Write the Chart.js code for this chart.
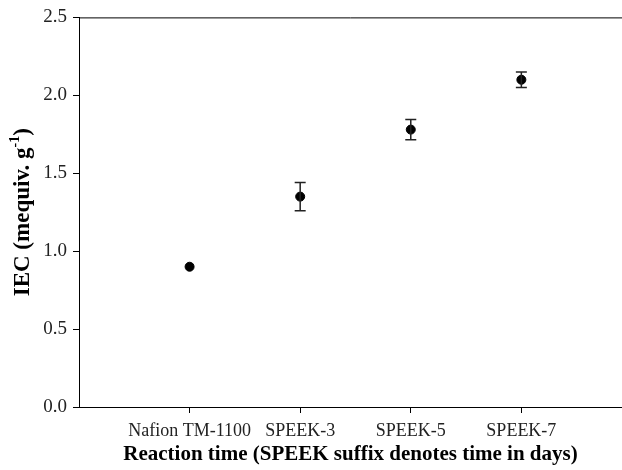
<!DOCTYPE html>
<html>
<head>
<meta charset="utf-8">
<script src="https://cdn.jsdelivr.net/npm/chart.js@4.4.0/dist/chart.umd.min.js"></script>
<style>
	html, body { margin: 0; padding: 0; background: #fff; overflow: hidden; }
	#wrap { width: 622px; height: 470px; }
</style>
</head>
<body>
<div id="wrap"><canvas id="chart"></canvas></div>
<script>
const categories = ['Nafion TM-1100', 'SPEEK-3', 'SPEEK-5', 'SPEEK-7'];
const categoryPositions = [1, 2, 3, 4];
const iecValues = [0.9, 1.35, 1.78, 2.1];
const iecErrors = [0, 0.09, 0.065, 0.05];
const yTicks = [0, 0.5, 1.0, 1.5, 2.0, 2.5];
const yTitleParts = ['IEC (mequiv. g', '-1', ')'];

const serif = "'Liberation Serif', 'Times New Roman', serif";

// error bars, top frame line and the y title (it has a superscript)
const extras = {
	id: 'extras',
	afterDatasetsDraw: (chart) => {
		const { ctx, chartArea, scales } = chart;
		ctx.save();
		ctx.strokeStyle = '#222';
		ctx.lineWidth = 1.5;
		iecValues.forEach((v, i) => {
			const err = iecErrors[i];
			if (!err) return;
			const x = scales.x.getPixelForValue(categoryPositions[i]);
			const yTop = scales.y.getPixelForValue(v + err);
			const yBot = scales.y.getPixelForValue(v - err);
			const cap = 5.5;
			ctx.beginPath();
			ctx.moveTo(x, yTop);
			ctx.lineTo(x, yBot);
			ctx.moveTo(x - cap, yTop);
			ctx.lineTo(x + cap, yTop);
			ctx.moveTo(x - cap, yBot);
			ctx.lineTo(x + cap, yBot);
			ctx.stroke();
		});
		ctx.strokeStyle = '#000';
		ctx.lineWidth = 1;
		ctx.beginPath();
		ctx.moveTo(chartArea.left, chartArea.top + 0.5);
		ctx.lineTo(chartArea.right, chartArea.top + 0.5);
		ctx.stroke();
		ctx.restore();
	},
	afterDraw: (chart) => {
		const { ctx, chartArea } = chart;
		const size = 23;
		const supSize = 14;
		const mainFont = `bold ${size}px ${serif}`;
		const supFont = `bold ${supSize}px ${serif}`;
		ctx.save();
		ctx.translate(21, (chartArea.top + chartArea.bottom) / 2);
		ctx.rotate(-Math.PI / 2);
		ctx.fillStyle = '#000';
		ctx.textBaseline = 'alphabetic';
		ctx.font = mainFont;
		const w1 = ctx.measureText(yTitleParts[0]).width;
		const w3 = ctx.measureText(yTitleParts[2]).width;
		ctx.font = supFont;
		const w2 = ctx.measureText(yTitleParts[1]).width;
		let x = -(w1 + w2 + w3) / 2;
		const base = size * 0.33;
		ctx.font = mainFont;
		ctx.fillText(yTitleParts[0], x, base);
		x += w1;
		ctx.font = supFont;
		ctx.fillText(yTitleParts[1], x, base - size * 0.42);
		x += w2;
		ctx.font = mainFont;
		ctx.fillText(yTitleParts[2], x, base);
		ctx.restore();
	},
};

const points = iecValues.map((v, i) => ({ x: categoryPositions[i], y: v }));

new Chart(document.getElementById('chart'), {
	type: 'scatter',
	data: {
		datasets: [
			{
				label: 'IEC',
				data: points,
				backgroundColor: '#000',
				borderColor: '#000',
				pointRadius: 4.5,
				pointHoverRadius: 4.5,
			},
		],
	},
	options: {
		responsive: true,
		maintainAspectRatio: false,
		animation: false,
		layout: {
			autoPadding: false,
			padding: { top: 17, right: 0, left: 0, bottom: 0 },
		},
		plugins: {
			legend: { display: false },
			tooltip: { enabled: false },
		},
		scales: {
			x: {
				type: 'linear',
				min: 0,
				max: 4.91,
				afterBuildTicks: (axis) => {
					axis.ticks = categoryPositions.map((p) => ({ value: p }));
				},
				afterFit: (axis) => {
					axis.height = 63;
				},
				ticks: {
					autoSkip: false,
					maxRotation: 0,
					padding: 7,
					color: '#222',
					font: { family: serif, size: 18 },
					callback: (value) => categories[categoryPositions.indexOf(value)] || '',
				},
				grid: {
					display: true,
					drawOnChartArea: false,
					drawTicks: true,
					tickLength: 6,
					color: '#000',
				},
				border: { display: true, color: '#000', width: 1 },
				title: {
					display: true,
					text: 'Reaction time (SPEEK suffix denotes time in days)',
					color: '#000',
					font: { family: serif, size: 21, weight: 'bold' },
					padding: { top: 0, bottom: 3 },
				},
			},
			y: {
				min: 0,
				max: 2.5,
				afterBuildTicks: (axis) => {
					axis.ticks = yTicks.map((v) => ({ value: v }));
				},
				afterFit: (axis) => {
					axis.width = 79;
				},
				ticks: {
					padding: 6,
					color: '#222',
					font: { family: serif, size: 19 },
					callback: (value) => value.toFixed(1),
				},
				grid: {
					display: true,
					drawOnChartArea: false,
					drawTicks: true,
					tickLength: 6,
					color: '#000',
				},
				border: { display: true, color: '#000', width: 1 },
				title: { display: false },
			},
		},
	},
	plugins: [extras],
});
</script>
</body>
</html>
